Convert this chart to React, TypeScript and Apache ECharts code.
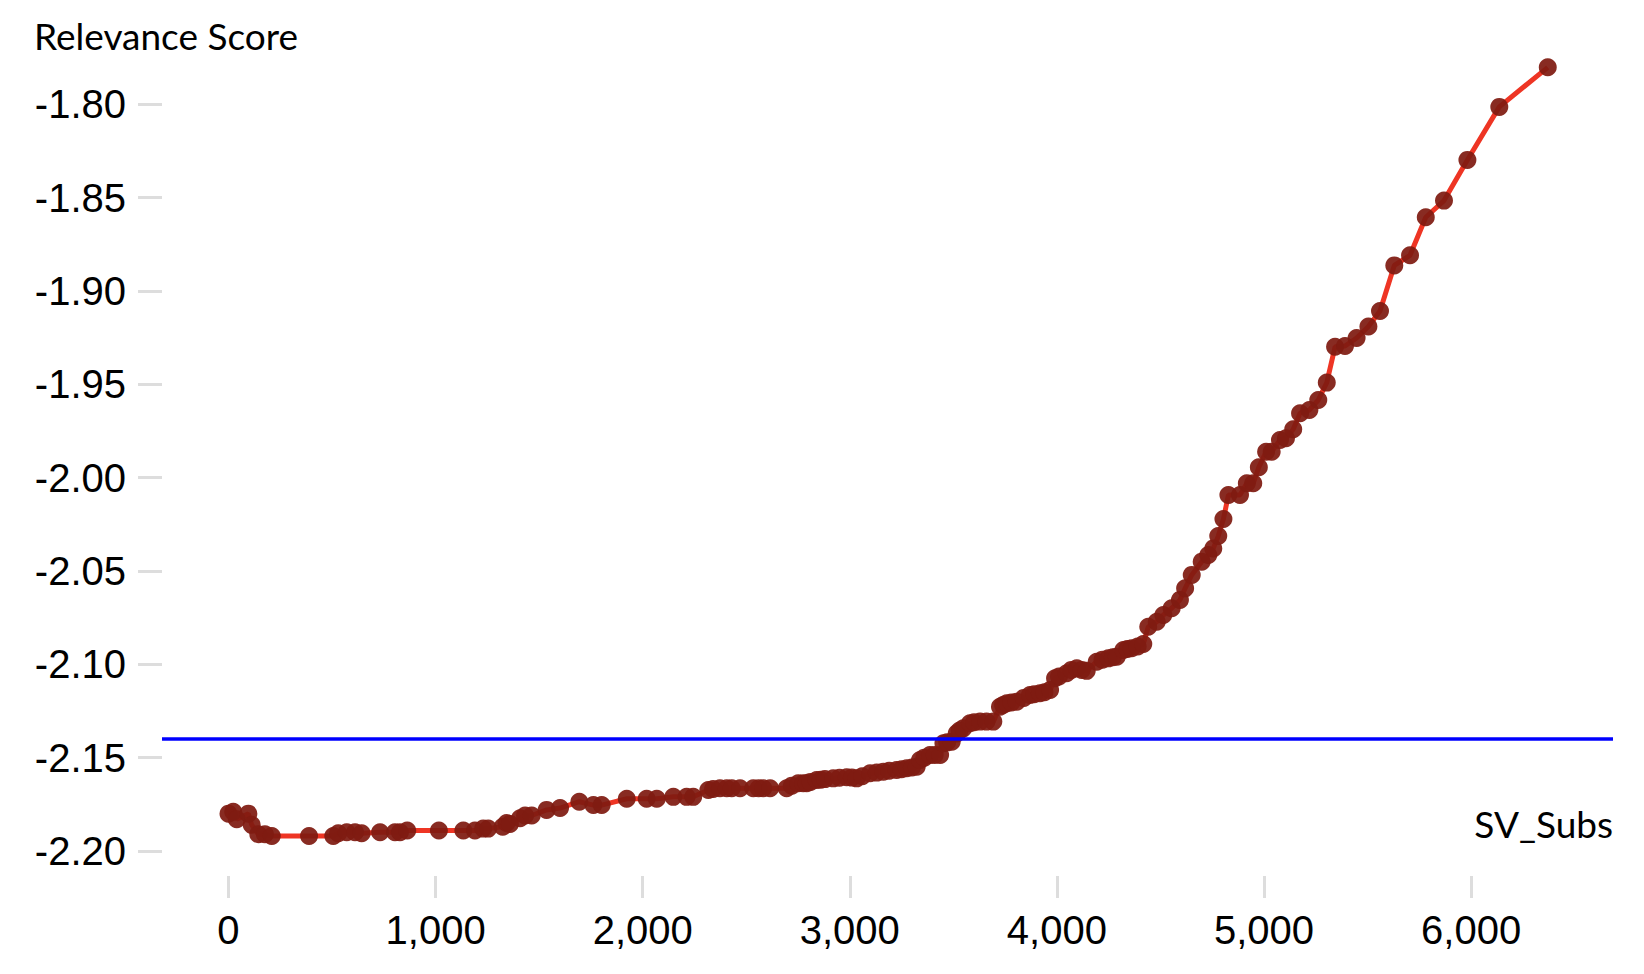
import React, { useEffect, useRef } from "react";
import * as echarts from "echarts";

// SV_Subs values (x) and Relevance Score (y)
const svSubs: number[] = [
  0, 23, 40, 96, 112, 144, 176, 209, 389, 506, 530, 571, 611, 643, 732, 804, 828, 863,
  1016, 1134, 1190, 1230, 1254, 1324, 1343, 1359, 1408, 1432, 1464, 1536, 1601, 1694,
  1762, 1802, 1923, 2019, 2068, 2148, 2212, 2244, 2317, 2340, 2373, 2406, 2430, 2470,
  2534, 2560, 2582, 2615, 2695, 2720, 2751, 2775, 2792, 2810, 2840, 2860, 2880, 2920,
  2950, 2985, 3010, 3033, 3060, 3098, 3130, 3162, 3190, 3226, 3250, 3275, 3300, 3323,
  3339, 3360, 3387, 3410, 3436, 3452, 3470, 3492, 3516, 3530, 3548, 3580, 3600, 3629,
  3660, 3693, 3725, 3740, 3758, 3780, 3806, 3840, 3870, 3890, 3918, 3940, 3967, 3991,
  4010, 4047, 4070, 4096, 4120, 4144, 4192, 4220, 4248, 4270, 4289, 4321, 4340, 4361,
  4390, 4417, 4441, 4482, 4514, 4554, 4594, 4619, 4651, 4699, 4731, 4755, 4779, 4804,
  4828, 4884, 4917, 4948, 4975, 5010, 5037, 5077, 5106, 5141, 5174, 5219, 5262, 5303,
  5343, 5391, 5447, 5504, 5560, 5629, 5705, 5781, 5869, 5982, 6136, 6370,
];
const relevance: number[] = [
  -2.180, -2.179, -2.183, -2.180, -2.186, -2.191, -2.191, -2.192, -2.192, -2.192, -2.1905,
  -2.190, -2.190, -2.1905, -2.190, -2.190, -2.190, -2.189, -2.189, -2.189, -2.189, -2.188,
  -2.188, -2.187, -2.185, -2.1855, -2.1825, -2.181, -2.181, -2.178, -2.177, -2.1736,
  -2.1754, -2.1754, -2.172, -2.172, -2.172, -2.171, -2.171, -2.171, -2.1673, -2.1668,
  -2.1664, -2.1664, -2.1664, -2.1664, -2.1664, -2.1664, -2.1664, -2.1664, -2.1664, -2.165,
  -2.1637, -2.1637, -2.1637, -2.163, -2.162, -2.1618, -2.1615, -2.1611, -2.1608, -2.1605,
  -2.1607, -2.1611, -2.160, -2.1584, -2.158, -2.1575, -2.157, -2.1566, -2.1562, -2.1557,
  -2.1553, -2.1549, -2.1513, -2.150, -2.1486, -2.1486, -2.1486, -2.1423, -2.1418, -2.1415,
  -2.137, -2.1355, -2.1343, -2.1316, -2.131, -2.1307, -2.1307, -2.1307, -2.1227, -2.1218,
  -2.1209, -2.1205, -2.12, -2.118, -2.1164, -2.116, -2.1155, -2.115, -2.1138, -2.1075,
  -2.1065, -2.1048, -2.103, -2.1021, -2.103, -2.1035, -2.0986, -2.0975, -2.0968, -2.0962,
  -2.0959, -2.0923, -2.0918, -2.0914, -2.0905, -2.0891, -2.0799, -2.0772, -2.0736, -2.07,
  -2.0655, -2.0593, -2.0521, -2.045, -2.0414, -2.0379, -2.0313, -2.0222, -2.0093, -2.0093,
  -2.003, -2.003, -1.9944, -1.9861, -1.9861, -1.9798, -1.9789, -1.9741, -1.9655, -1.9638,
  -1.9584, -1.9491, -1.9299, -1.9295, -1.9252, -1.919, -1.9107, -1.8863, -1.8809, -1.8605,
  -1.8516, -1.8298, -1.8014, -1.7802,
];
const threshold = -2.139;
const xTicks: number[] = [0, 1000, 2000, 3000, 4000, 5000, 6000];
const yTicks: number[] = [-2.2, -2.15, -2.1, -2.05, -2.0, -1.95, -1.9, -1.85, -1.8];
const yTitle = "Relevance Score";
const xTitle = "SV_Subs";

export default function App() {
  const ref = useRef<HTMLDivElement>(null);
  useEffect(() => {
    document.body.style.margin = "0";
    const chart = echarts.init(ref.current!, undefined, { renderer: "svg" });
    const points = svSubs.map((x, i) => [x, relevance[i]]);
    const labelFont = {
      fontFamily: "Liberation Sans, Arial, sans-serif",
      fontSize: 40,
      color: "#000",
    };
    chart.setOption({
      animation: false,
      grid: { left: 162, right: 31, top: 28.5, bottom: 98, containLabel: false },
      xAxis: {
        type: "value",
        min: -321,
        max: 6685,
        axisLine: { show: false, onZero: false },
        splitLine: { show: false },
        axisTick: {
          show: true,
          length: 22,
          customValues: xTicks,
          lineStyle: { color: "#dddddd", width: 3 },
        },
        axisLabel: {
          ...labelFont,
          margin: 34,
          customValues: xTicks,
          formatter: (v: number) => v.toLocaleString("en-US"),
        },
      },
      yAxis: {
        type: "value",
        min: -2.2134,
        max: -1.7594,
        axisLine: { show: false, onZero: false },
        splitLine: { show: false },
        axisTick: {
          show: true,
          length: 24,
          customValues: yTicks,
          lineStyle: { color: "#dddddd", width: 3 },
        },
        axisLabel: {
          ...labelFont,
          margin: 36,
          customValues: yTicks,
          formatter: (v: number) => v.toFixed(2),
        },
      },
      graphic: [
        {
          type: "text",
          left: 34,
          top: 17,
          style: {
            text: yTitle,
            fontFamily: "Lato, sans-serif",
            fontSize: 37,
            fill: "#000",
          },
        },
        {
          type: "text",
          right: 31,
          top: 805,
          style: {
            text: xTitle,
            fontFamily: "Lato, sans-serif",
            fontSize: 37,
            fill: "#000",
          },
        },
      ],
      series: [
        {
          type: "line",
          data: points,
          symbol: "circle",
          symbolSize: 18,
          showAllSymbol: true,
          silent: true,
          itemStyle: { color: "#7f1b11", opacity: 0.93 },
          lineStyle: { color: "#ee3524", width: 5 },
          emphasis: { disabled: true },
          markLine: {
            silent: true,
            symbol: "none",
            label: { show: false },
            lineStyle: { color: "#0000ff", width: 3.5, type: "solid" },
            data: [{ yAxis: threshold }],
          },
          z: 3,
        },
      ],
    });
    return () => chart.dispose();
  }, []);
  return (
    <div
      ref={ref}
      style={{ position: "absolute", left: 0, top: 0, width: 1644, height: 974 }}
    />
  );
}
